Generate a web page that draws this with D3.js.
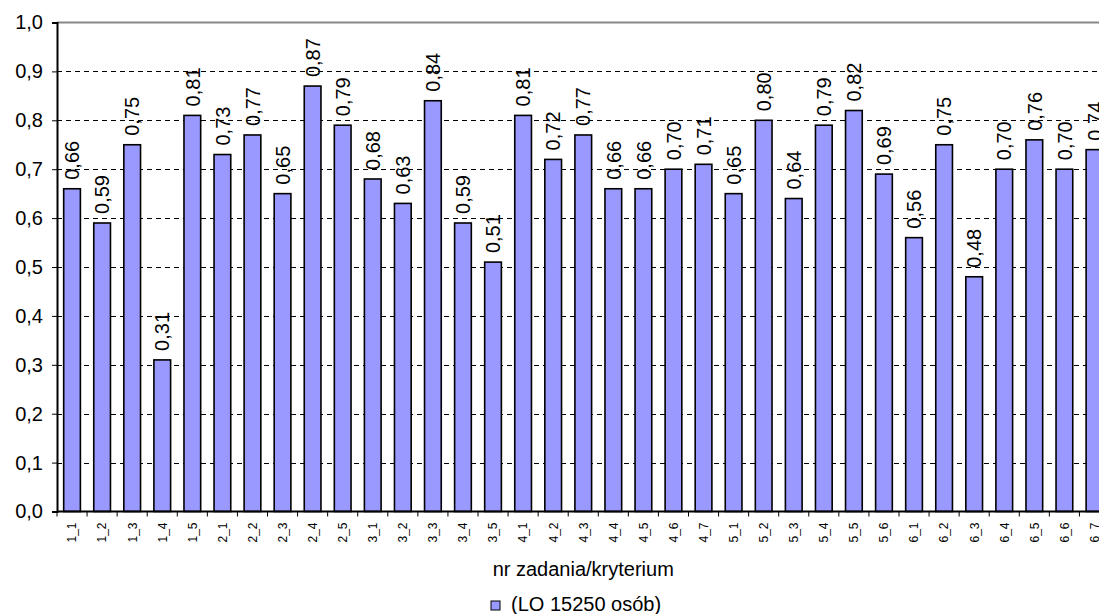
<!DOCTYPE html>
<html>
<head>
<meta charset="utf-8">
<script src="https://cdn.jsdelivr.net/npm/d3@7"></script>
<style>
  html, body { margin: 0; padding: 0; background: #fff; }
  svg { display: block; font-family: "Liberation Sans", Arial, sans-serif; }
</style>
</head>
<body>
<svg id="chart" width="1099" height="614"></svg>
<script>
// Task / criterion identifiers
const categories = [
  "1_1","1_2","1_3","1_4","1_5",
  "2_1","2_2","2_3","2_4","2_5",
  "3_1","3_2","3_3","3_4","3_5",
  "4_1","4_2","4_3","4_4","4_5","4_6","4_7",
  "5_1","5_2","5_3","5_4","5_5","5_6",
  "6_1","6_2","6_3","6_4","6_5","6_6","6_7"
];

// Easiness index per task / criterion
const values = [
  0.66, 0.59, 0.75, 0.31, 0.81,
  0.73, 0.77, 0.65, 0.87, 0.79,
  0.68, 0.63, 0.84, 0.59, 0.51,
  0.81, 0.72, 0.77, 0.66, 0.66, 0.70, 0.71,
  0.65, 0.80, 0.64, 0.79, 0.82, 0.69,
  0.56, 0.75, 0.48, 0.70, 0.76, 0.70, 0.74
];

const yTicks = [0, 0.1, 0.2, 0.3, 0.4, 0.5, 0.6, 0.7, 0.8, 0.9, 1.0];
const seriesName = "(LO 15250 osób)";
const xTitle = "nr zadania/kryterium";

const pl = d3.formatLocale({ decimal: ",", thousands: " ", grouping: [3], currency: ["", " zł"] });
const fmt1 = pl.format(".1f");
const fmt2 = pl.format(".2f");

const svg = d3.select("#chart");
const plotL = 57, plotR = 1109.5, plotT = 22.5, plotB = 511.5;

const x = d3.scaleBand().domain(categories).range([plotL, plotR]).padding(0);
const y = d3.scaleLinear().domain([0, 1]).range([plotB, plotT]);
const step = x.step();
const barW = step / 1.8;

// dashed gridlines
svg.append("g").selectAll("line")
  .data(yTicks.filter(t => t > 0 && t < 1))
  .join("line")
  .attr("x1", plotL).attr("x2", plotR)
  .attr("y1", d => Math.round(y(d)) + 0.5).attr("y2", d => Math.round(y(d)) + 0.5)
  .attr("stroke", "#000").attr("stroke-width", 1)
  .attr("stroke-dasharray", "5,4");

// top border of plot area
svg.append("line")
  .attr("x1", plotL).attr("x2", plotR)
  .attr("y1", y(1)).attr("y2", y(1))
  .attr("stroke", "#888").attr("stroke-width", 2);

// bars
svg.append("g").selectAll("rect")
  .data(values)
  .join("rect")
  .attr("x", (d, i) => x(categories[i]) + (step - barW) / 2)
  .attr("y", d => y(d))
  .attr("width", barW)
  .attr("height", d => y(0) - y(d))
  .attr("fill", "#9999FF")
  .attr("stroke", "#000")
  .attr("stroke-width", 1.6);

// value labels
svg.append("g").selectAll("text")
  .data(values)
  .join("text")
  .attr("transform", (d, i) => `translate(${x(categories[i]) + step / 2},${y(d) - 9}) rotate(-90)`)
  .attr("dy", "0.36em")
  .attr("text-anchor", "start")
  .attr("font-size", 20)
  .attr("fill", "#000")
  .text(d => fmt2(d));

// y axis
const yAxis = d3.axisLeft(y).tickValues(yTicks).tickSize(5).tickPadding(9).tickFormat(fmt1);
const gy = svg.append("g").attr("transform", `translate(${plotL},0)`).call(yAxis);
gy.select(".domain").attr("stroke", "#000").attr("stroke-width", 2);
gy.selectAll(".tick line").attr("stroke", "#000").attr("stroke-width", 1);
gy.selectAll(".tick text").attr("font-size", 20).attr("font-family", "Liberation Sans, Arial, sans-serif").attr("fill", "#000");

// x axis baseline and category boundary ticks
svg.append("line")
  .attr("x1", plotL).attr("x2", plotR)
  .attr("y1", plotB).attr("y2", plotB)
  .attr("stroke", "#000").attr("stroke-width", 2);
svg.append("g").selectAll("line")
  .data(d3.range(categories.length + 1))
  .join("line")
  .attr("x1", i => plotL + i * step).attr("x2", i => plotL + i * step)
  .attr("y1", plotB).attr("y2", plotB + 5)
  .attr("stroke", "#000").attr("stroke-width", 1);

// category labels
svg.append("g").selectAll("text")
  .data(categories)
  .join("text")
  .attr("transform", d => `translate(${x(d) + step / 2},${plotB + 11}) rotate(-90)`)
  .attr("dy", "0.36em")
  .attr("text-anchor", "end")
  .attr("font-size", 12)
  .attr("fill", "#000")
  .text(d => d);

// axis title
svg.append("text")
  .attr("x", (plotL + plotR) / 2).attr("y", 576)
  .attr("text-anchor", "middle")
  .attr("font-size", 20)
  .attr("fill", "#000")
  .text(xTitle);

// legend
const lg = svg.append("g").attr("transform", "translate(491,601)");
lg.append("rect").attr("width", 9).attr("height", 9)
  .attr("fill", "#9999FF").attr("stroke", "#000").attr("stroke-width", 1);
lg.append("text").attr("x", 20).attr("y", 10)
  .attr("font-size", 20).attr("fill", "#000")
  .text(seriesName);
</script>
</body>
</html>
